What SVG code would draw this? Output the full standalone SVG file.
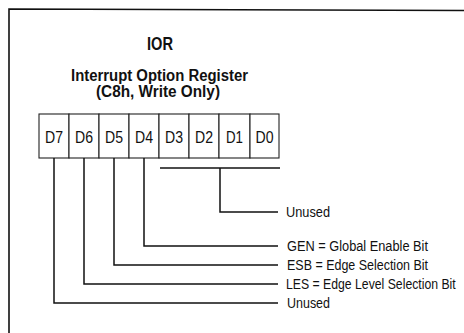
<svg xmlns="http://www.w3.org/2000/svg" width="464" height="333" viewBox="0 0 464 333">
<style>
.frame{fill:none;stroke:#111;stroke-width:1.6}
.box{fill:#fff;stroke:#222;stroke-width:1.1}
.conn{fill:none;stroke:#111;stroke-width:1.5}
.t{font-family:"Liberation Sans",Arial,sans-serif;fill:#111}
.title{font-weight:bold;font-size:16px}
.bit{font-size:16px}
.lbl{font-size:14px}
</style>
<rect width="464" height="333" fill="#fff"/>
<path class="frame" d="M9 333 L9 9 L464 10.5"/>
<g id="title">
<text class="t title" x="160" y="50" text-anchor="middle" style="font-size:18px" textLength="26" lengthAdjust="spacingAndGlyphs">IOR</text>
<text class="t title" x="159.5" y="81" text-anchor="middle" textLength="177" lengthAdjust="spacingAndGlyphs">Interrupt Option Register</text>
<text class="t title" x="158" y="97" text-anchor="middle" textLength="124" lengthAdjust="spacingAndGlyphs">(C8h, Write Only)</text>
</g>
<g id="register">
<g id="D7"><rect class="box" x="39" y="114" width="30" height="44"/><text class="t bit" x="54" y="143" text-anchor="middle" textLength="18" lengthAdjust="spacingAndGlyphs">D7</text></g>
<g id="D6"><rect class="box" x="69" y="114" width="30" height="44"/><text class="t bit" x="84" y="143" text-anchor="middle" textLength="18" lengthAdjust="spacingAndGlyphs">D6</text></g>
<g id="D5"><rect class="box" x="99" y="114" width="30" height="44"/><text class="t bit" x="114" y="143" text-anchor="middle" textLength="18" lengthAdjust="spacingAndGlyphs">D5</text></g>
<g id="D4"><rect class="box" x="129" y="114" width="30" height="44"/><text class="t bit" x="144" y="143" text-anchor="middle" textLength="18" lengthAdjust="spacingAndGlyphs">D4</text></g>
<g id="D3"><rect class="box" x="159" y="114" width="30" height="44"/><text class="t bit" x="174" y="143" text-anchor="middle" textLength="18" lengthAdjust="spacingAndGlyphs">D3</text></g>
<g id="D2"><rect class="box" x="189" y="114" width="30" height="44"/><text class="t bit" x="204" y="143" text-anchor="middle" textLength="18" lengthAdjust="spacingAndGlyphs">D2</text></g>
<g id="D1"><rect class="box" x="219" y="114" width="31" height="44"/><text class="t bit" x="234.5" y="143" text-anchor="middle" textLength="17" lengthAdjust="spacingAndGlyphs">D1</text></g>
<g id="D0"><rect class="box" x="250" y="114" width="29" height="44"/><text class="t bit" x="264.5" y="143" text-anchor="middle" textLength="18" lengthAdjust="spacingAndGlyphs">D0</text></g>
</g>
<g id="connectors">
<path class="conn" d="M160 168 L280 168"/>
<path class="conn" d="M220 168 L220 212 L278 212"/>
<path class="conn" d="M144 158 L144 246 L278 246"/>
<path class="conn" d="M114 158 L114 265 L278 265"/>
<path class="conn" d="M84 158 L84 284 L278 284"/>
<path class="conn" d="M54 158 L54 303 L278 303"/>
</g>
<g id="labels">
<text class="t lbl" x="286" y="217" textLength="44" lengthAdjust="spacingAndGlyphs">Unused</text>
<text class="t lbl" x="287" y="251" textLength="141" lengthAdjust="spacingAndGlyphs">GEN = Global Enable Bit</text>
<text class="t lbl" x="287" y="270" textLength="141" lengthAdjust="spacingAndGlyphs">ESB = Edge Selection Bit</text>
<text class="t lbl" transform="translate(286 289) scale(0.875 1)" x="0" y="0">LES = Edge Level Selection Bit</text>
<text class="t lbl" x="287" y="308" textLength="43" lengthAdjust="spacingAndGlyphs">Unused</text>
</g>
</svg>
